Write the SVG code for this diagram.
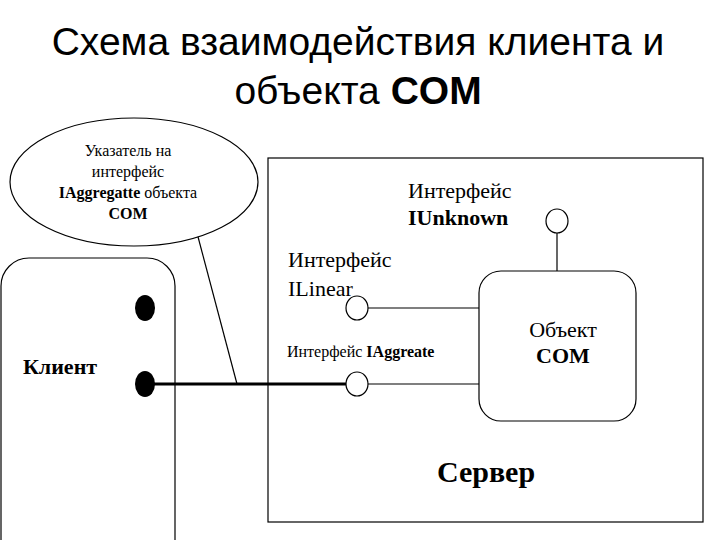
<svg xmlns="http://www.w3.org/2000/svg" width="720" height="540" viewBox="0 0 720 540">
<style>
.s{fill:none;stroke:#000;stroke-width:1.2}
.c{fill:#fff;stroke:#000;stroke-width:1.2}
.t{font-family:"Liberation Serif","DejaVu Serif",serif;fill:#000}
.b{font-weight:bold}
.h{font-family:"Liberation Sans",sans-serif;font-size:39px;text-anchor:middle}
</style>
<rect width="720" height="540" fill="#fff"/>
<text class="h" x="358" y="55">Схема взаимодействия клиента и</text>
<text class="h" x="358" y="104">объекта <tspan font-weight="bold">COM</tspan></text>
<g id="server"><rect class="s" x="268" y="158" width="435" height="364"/>
<text class="t b" x="486" y="482" font-size="30" text-anchor="middle">Сервер</text></g>
<g id="client"><rect class="s" x="1" y="258" width="174" height="310" rx="28"/>
<text class="t b" x="60" y="374" font-size="22" text-anchor="middle">Клиент</text>
<ellipse cx="145" cy="308" rx="10" ry="13"/><ellipse cx="145" cy="384" rx="10" ry="13"/></g>
<g id="callout"><line class="s" x1="197" y1="233" x2="237" y2="384"/>
<ellipse class="c" cx="134" cy="182" rx="124" ry="64"/>
<text class="t" font-size="16" text-anchor="middle"><tspan x="128" y="156">Указатель на</tspan><tspan x="128" y="177">интерфейс</tspan><tspan x="128" y="198"><tspan font-weight="bold">IAggregatte</tspan> объекта</tspan><tspan x="128" y="219" font-weight="bold">COM</tspan></text></g>
<g id="connectors">
<line class="s" x1="557" y1="233" x2="557" y2="271"/>
<line class="s" x1="368" y1="308" x2="479" y2="308"/>
<line class="s" x1="368" y1="384" x2="479" y2="384"/>
<line x1="150" y1="384" x2="349" y2="384" stroke="#000" stroke-width="3"/>
<circle cx="349" cy="384" r="3"/></g>
<g id="object"><rect class="s" x="479" y="271" width="157" height="150" rx="22"/>
<text class="t" x="563" y="337" font-size="22" text-anchor="middle">Объект</text>
<text class="t b" x="563" y="363" font-size="22" text-anchor="middle">COM</text></g>
<g id="iunknown"><ellipse class="c" cx="557" cy="221" rx="11" ry="12"/>
<text class="t" x="408" y="198" font-size="22">Интерфейс</text>
<text class="t b" x="408" y="225" font-size="22">IUnknown</text></g>
<g id="ilinear"><ellipse class="c" cx="357" cy="308" rx="11" ry="12"/>
<text class="t" x="288" y="267" font-size="22">Интерфейс</text>
<text class="t" x="288" y="296" font-size="22">ILinear</text></g>
<g id="iaggregate"><ellipse class="c" cx="357" cy="384" rx="11" ry="12"/>
<text class="t" x="287" y="357" font-size="16">Интерфейс <tspan font-weight="bold">IAggreate</tspan></text></g>
</svg>
